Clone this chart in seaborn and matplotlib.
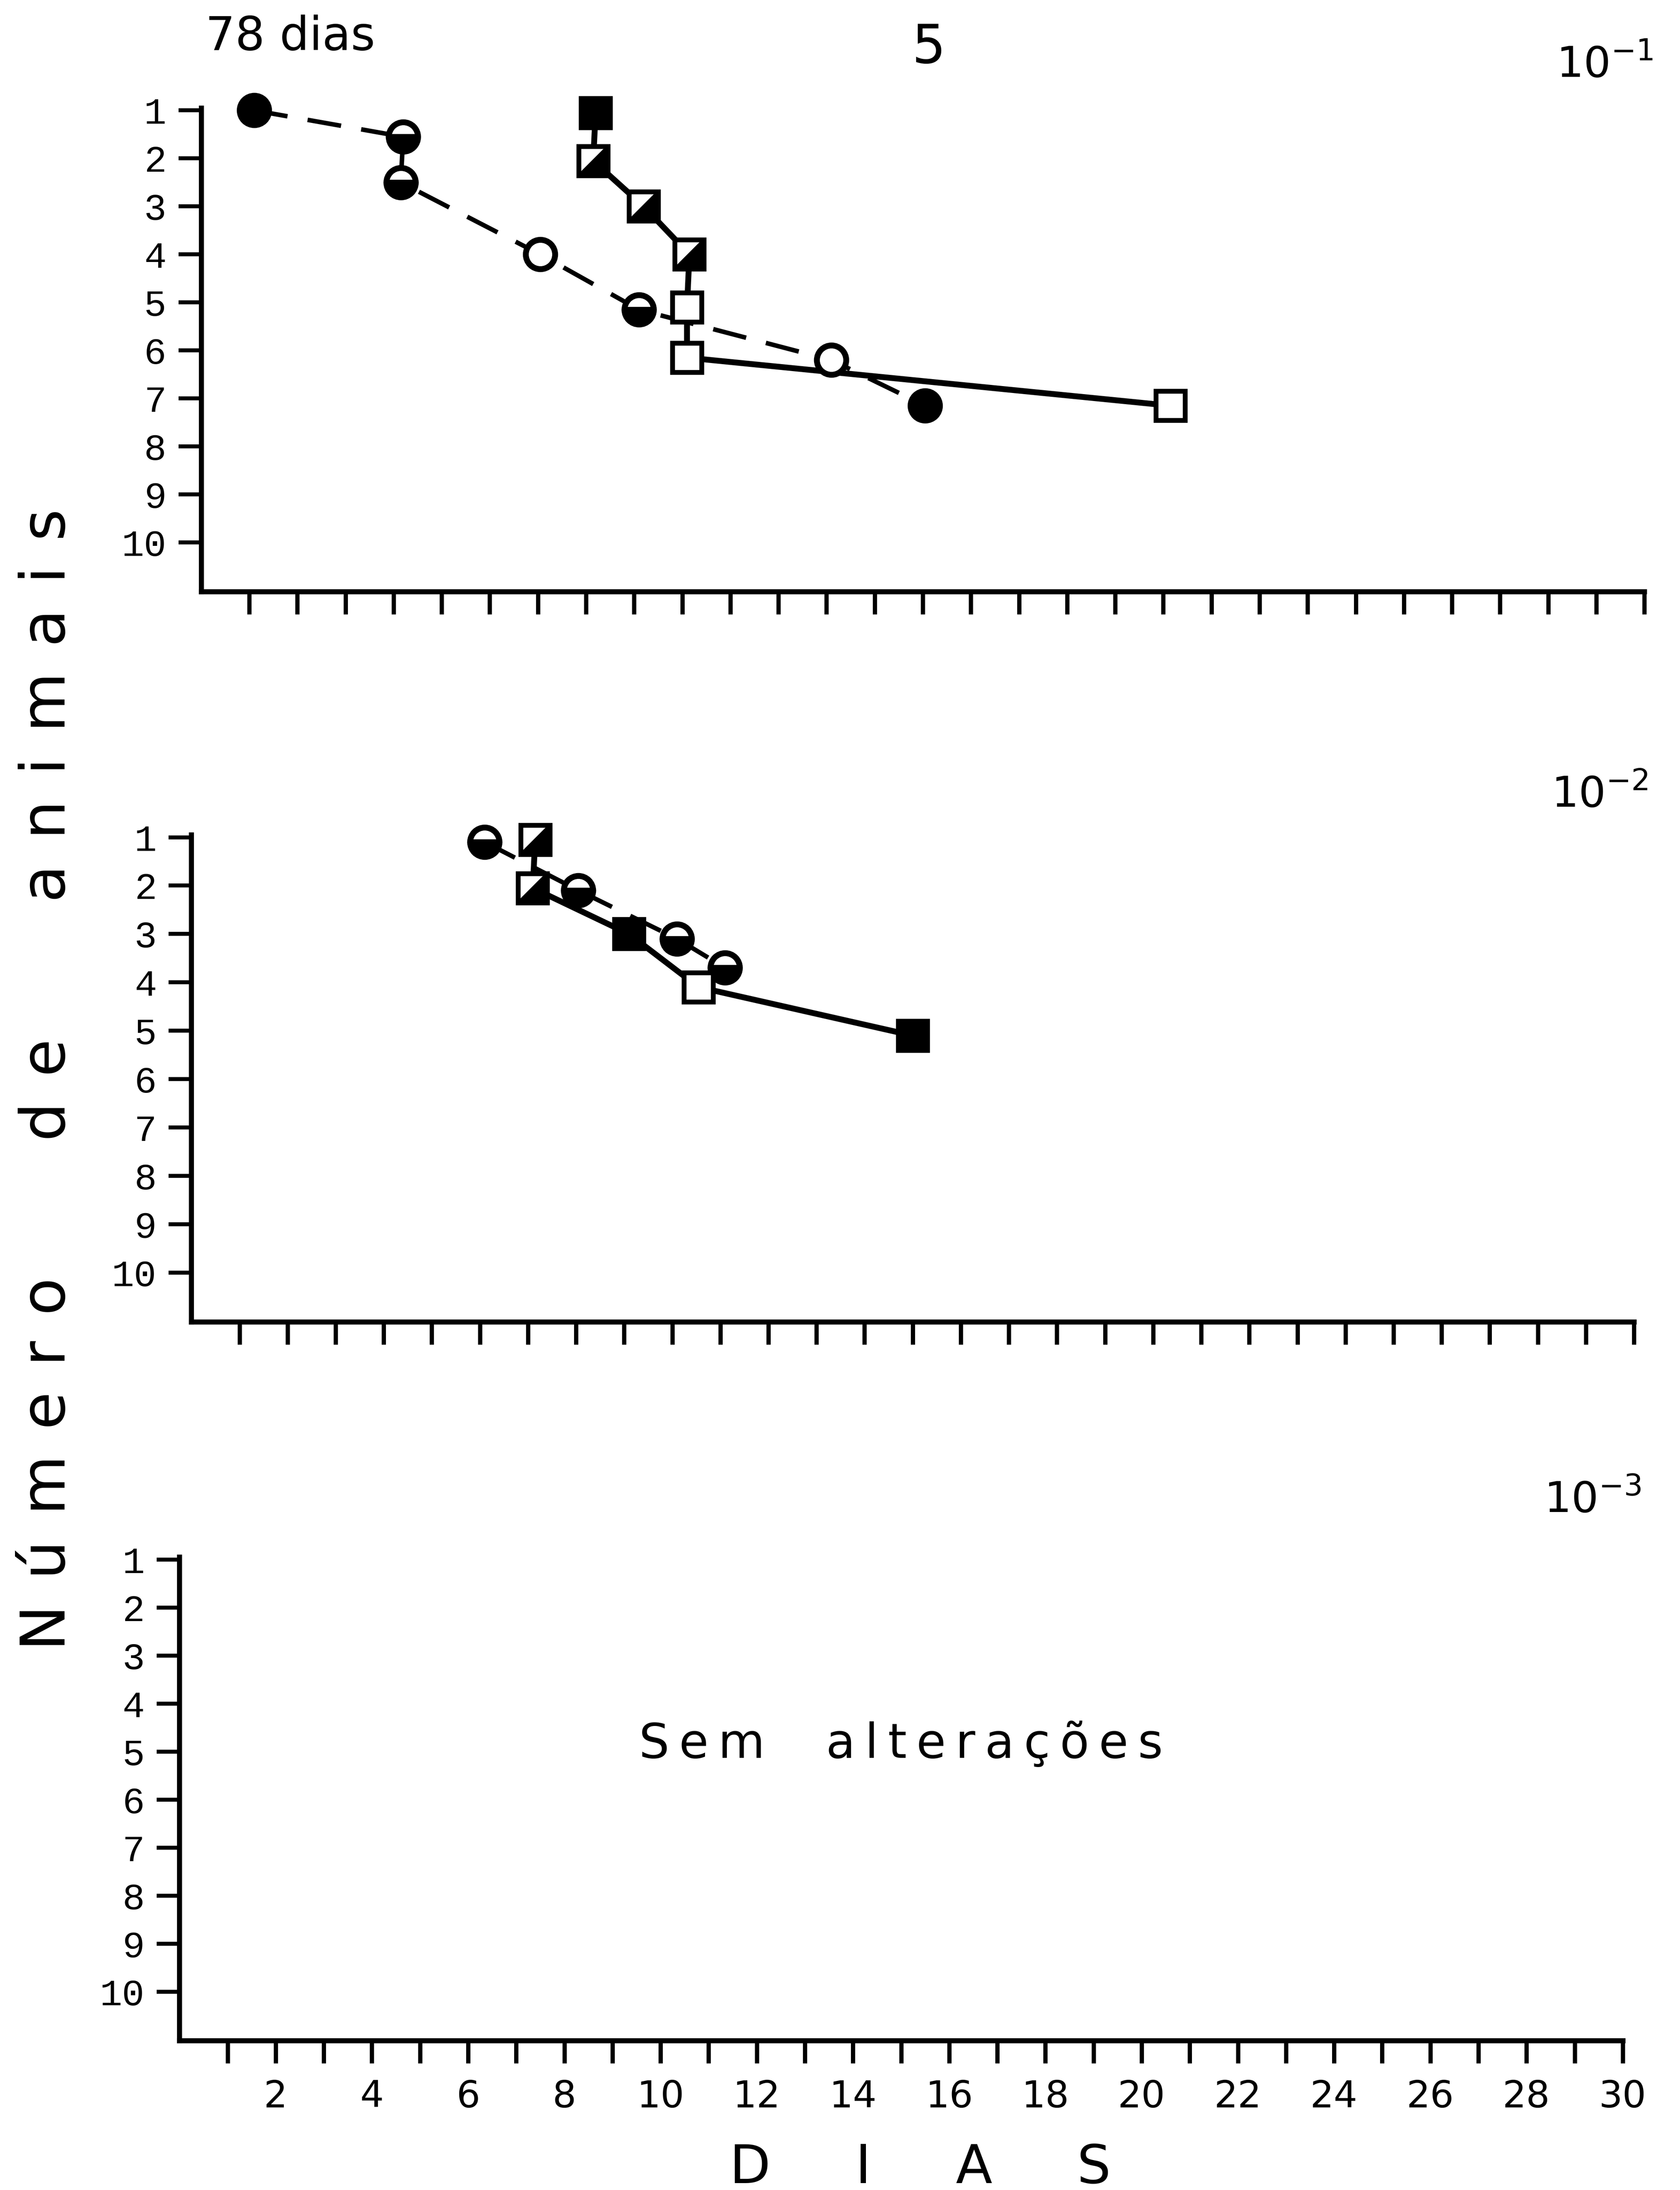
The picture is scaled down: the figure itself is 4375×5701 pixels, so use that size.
import numpy as np
import pandas as pd
import matplotlib
matplotlib.use("Agg")
import matplotlib.pyplot as plt
import seaborn as sns

# ---- values ----
# each point: day, animal number (rank), marker fill
# dilution 10^-1
d1_circ_days = [1.1, 4.2, 4.15, 7.05, 9.1, 13.1, 15.05]
d1_circ_n = [1.0, 1.55, 2.5, 4.0, 5.15, 6.2, 7.15]
d1_circ_fill = ["full", "bottom", "bottom", "none", "bottom", "none", "full"]

d1_sq_days = [8.2, 8.15, 9.2, 10.15, 10.1, 10.1, 20.15]
d1_sq_n = [1.05, 2.05, 3.0, 4.0, 5.1, 6.15, 7.15]
d1_sq_fill = ["full", "diag", "diag", "diag", "none", "none", "none"]

# dilution 10^-2
d2_circ_days = [6.1, 8.05, 10.1, 11.1]
d2_circ_n = [1.1, 2.1, 3.1, 3.7]
d2_circ_fill = ["bottom", "bottom", "bottom", "bottom"]

d2_sq_days = [7.15, 7.1, 9.1, 10.55, 15.0]
d2_sq_n = [1.05, 2.05, 3.0, 4.1, 5.1]
d2_sq_fill = ["diag", "diag", "full", "none", "full"]

# dilution 10^-3 had no changes

dilution_labels = [r"$\mathregular{10^{-1}}$", r"$\mathregular{10^{-2}}$", r"$\mathregular{10^{-3}}$"]
y_ticks = list(range(1, 11))
x_ticks = list(range(1, 31))
x_tick_labels = [str(d) if d % 2 == 0 else "" for d in x_ticks]

# ---- style ----
sns.set_style("ticks", {"axes.edgecolor": "black", "xtick.color": "black",
                        "ytick.color": "black", "text.color": "black"})
plt.rcParams["font.family"] = ["DejaVu Sans"]
plt.rcParams["mathtext.fontset"] = "custom"
plt.rcParams["mathtext.rm"] = "Liberation Mono"
plt.rcParams["mathtext.it"] = "Liberation Mono"
plt.rcParams["mathtext.bf"] = "Liberation Mono:bold"

MONO = "Liberation Mono"
TRI = [(1, 1), (1, -1), (-1, -1), (1, 1)]  # lower-right half of a square


def draw_series(ax, days, n, fills, kind):
    df = pd.DataFrame({"dia": days, "n": n})
    if kind == "circle":
        sns.lineplot(data=df, x="dia", y="n", estimator=None, sort=False, ax=ax,
                     color="black", lw=1.7, ls=(0, (7.5, 4.5)), zorder=2, clip_on=False)
    else:
        sns.lineplot(data=df, x="dia", y="n", estimator=None, sort=False, ax=ax,
                     color="black", lw=2.2, zorder=2, clip_on=False)
    x = np.array(days)
    y = np.array(n)
    f = np.array(fills)
    mk = "o" if kind == "circle" else "s"
    mew = 2.2 if kind == "circle" else 1.8
    base = dict(ls="none", marker=mk, ms=11, mec="black", mew=mew, zorder=3, clip_on=False)
    for fill in ["full", "bottom", "none", "diag"]:
        m = f == fill
        if not m.any():
            continue
        if fill == "full":
            ax.plot(x[m], y[m], mfc="black", **base)
        elif fill == "bottom":
            ax.plot(x[m], y[m], fillstyle="bottom", mfc="black",
                    markerfacecoloralt="white", **base)
        elif fill == "none":
            ax.plot(x[m], y[m], mfc="white", **base)
        else:
            ax.plot(x[m], y[m], mfc="white", **base)
            ax.plot(x[m], y[m], ls="none", marker=TRI, ms=11, mfc="black",
                    mec="black", mew=1.2, zorder=4, clip_on=False)


def setup_axis(ax, show_x_labels):
    ax.set_xlim(0, 30)
    ax.set_ylim(11.02, 0.95)
    ax.set_xticks(x_ticks)
    ax.set_yticks(y_ticks)
    ax.set_yticklabels([str(v) for v in y_ticks], fontfamily=MONO, fontsize=14)
    if show_x_labels:
        ax.set_xticklabels(x_tick_labels, fontsize=14)
    else:
        ax.set_xticklabels([])
    ax.set_xlabel("")
    ax.set_ylabel("")
    sns.despine(ax=ax)
    for side in ["left", "bottom"]:
        ax.spines[side].set_linewidth(1.9)
    ax.tick_params(axis="x", direction="out", length=8.5, width=1.6, pad=6)
    ax.tick_params(axis="y", direction="out", length=8.5, width=1.5, pad=4.5)
    ax.patch.set_alpha(0)


fig = plt.figure(figsize=(8.75, 11.402), dpi=500)
fig.patch.set_facecolor("white")

ax1 = fig.add_axes([0.1197, 0.7299, 0.8591, 0.2208])
ax2 = fig.add_axes([0.1139, 0.3964, 0.8587, 0.2224])
ax3 = fig.add_axes([0.1068, 0.0682, 0.8591, 0.2208])

draw_series(ax1, d1_circ_days, d1_circ_n, d1_circ_fill, "circle")
draw_series(ax1, d1_sq_days, d1_sq_n, d1_sq_fill, "square")
draw_series(ax2, d2_circ_days, d2_circ_n, d2_circ_fill, "circle")
draw_series(ax2, d2_sq_days, d2_sq_n, d2_sq_fill, "square")

setup_axis(ax1, False)
setup_axis(ax2, False)
setup_axis(ax3, True)

thin = "\u2009"
ax3.text(15.0, 5.13, thin.join("Sem") + "    " + thin.join("alterações"),
         ha="center", va="baseline", fontsize=18)

# header texts
fig.text(0.1222, 0.9772, "78 dias", fontsize=17.5, va="baseline")
fig.text(0.5528, 0.9713, "5", fontsize=20, ha="center", va="baseline")

# dilution labels
fig.text(0.984, 0.9649, dilution_labels[0], fontsize=16, ha="right", va="baseline")
fig.text(0.981, 0.6314, dilution_labels[1], fontsize=16, ha="right", va="baseline")
fig.text(0.977, 0.3093, dilution_labels[2], fontsize=16, ha="right", va="baseline")

# axis titles
fig.text(0.5478, 0.0032, "D     I     A     S", fontsize=20, ha="center", va="baseline")
sep = " \u200a"
ylab = sep.join("Número") + "       " + sep.join("de") + "       " + sep.join("animais")
fig.text(0.0385, 0.507, ylab, fontsize=23, rotation=90, rotation_mode="anchor",
         ha="center", va="baseline")

fig.savefig("out.png", dpi=500)
